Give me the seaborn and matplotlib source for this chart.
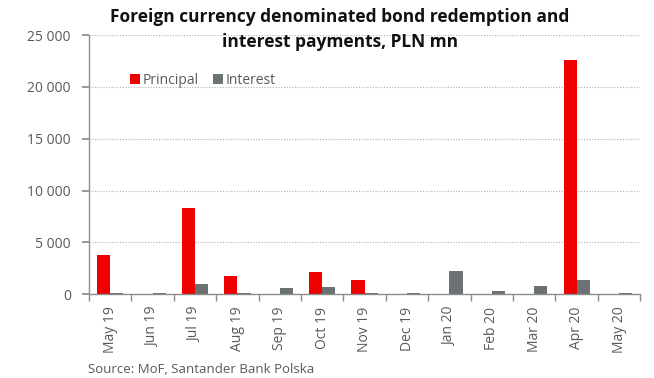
import matplotlib
matplotlib.use("Agg")
import matplotlib.pyplot as plt
import seaborn as sns
import pandas as pd
from matplotlib.ticker import FuncFormatter, FixedLocator

months = ["May 19", "Jun 19", "Jul 19", "Aug 19", "Sep 19", "Oct 19", "Nov 19",
          "Dec 19", "Jan 20", "Feb 20", "Mar 20", "Apr 20", "May 20"]
principal = [3770, 0, 8300, 1740, 0, 2120, 1350, 0, 0, 0, 0, 22600, 0]
interest = [150, 150, 950, 150, 580, 700, 150, 150, 2200, 300, 820, 1350, 150]
series_names = ["Principal", "Interest"]
colors = ["#ee0000", "#6b7274"]

df = pd.DataFrame({
    "month": months * 2,
    "value": principal + interest,
    "series": [series_names[0]] * len(months) + [series_names[1]] * len(months),
})

sns.set_theme(style="white")
plt.rcParams["font.family"] = ["Open Sans", "DejaVu Sans"]

fig = plt.figure(figsize=(6.54, 3.78), dpi=100)
ax = fig.add_axes([0.136, 0.222, 0.843, 0.685])

sns.barplot(data=df, x="month", y="value", hue="series", palette=colors,
            width=0.62, saturation=1, ax=ax, order=months, hue_order=series_names,
            linewidth=0)

ax.set_xlim(-0.5, len(months) - 0.5)
ax.set_ylim(0, 25000)
ax.set_yticks([0, 5000, 10000, 15000, 20000, 25000])
ax.yaxis.set_major_formatter(FuncFormatter(lambda v, p: f"{int(v):,}".replace(",", " ")))
ax.grid(axis="y", linestyle=(0, (1, 1.5)), color="#b0b0b0", linewidth=0.8)
ax.set_axisbelow(True)
ax.set_xlabel("")
ax.set_ylabel("")

for s in ["top", "right"]:
    ax.spines[s].set_visible(False)
for s in ["left", "bottom"]:
    ax.spines[s].set_color("#8c8c8c")
    ax.spines[s].set_linewidth(1.0)

label_color = "#595959"
ax.tick_params(axis="y", which="major", left=True, length=5, color="#8c8c8c",
               labelsize=10, labelcolor=label_color, pad=8)
ax.set_xticks(range(len(months)))
ax.set_xticklabels(months, rotation=90, fontsize=10, color=label_color)
ax.tick_params(axis="x", which="major", length=0, pad=9)
ax.xaxis.set_minor_locator(FixedLocator([i - 0.5 for i in range(len(months) + 1)]))
ax.tick_params(axis="x", which="minor", bottom=True, length=5, color="#8c8c8c", width=1)

leg = ax.legend(loc="upper left", bbox_to_anchor=(0.065, 0.875), frameon=False,
                fontsize=10, handlelength=0.7, handleheight=0.7, handletextpad=0.2,
                ncol=2, columnspacing=1.0, borderaxespad=0)
for t in leg.get_texts():
    t.set_color(label_color)

fig.text(0.52, 0.98, "Foreign currency denominated bond redemption and\ninterest payments, PLN mn",
         ha="center", va="top", fontsize=12.5, fontweight="bold", color="#111111",
         linespacing=1.5)
fig.text(0.135, 0.005, "Source: MoF, Santander Bank Polska", ha="left", va="bottom",
         fontsize=9.5, color=label_color)

fig.savefig("out.png", dpi=100)
